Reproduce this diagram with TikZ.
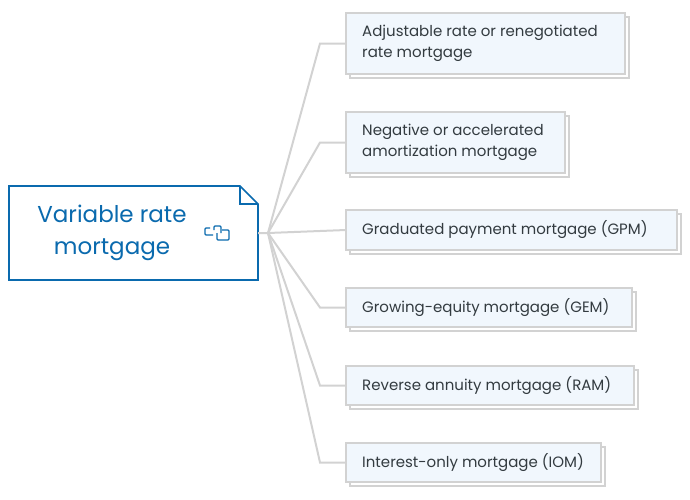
\documentclass[tikz,border=0pt]{standalone}
\usepackage{fontspec}
\setmainfont{Poppins}
\definecolor{rootblue}{HTML}{0A6AAE}
\definecolor{lnk}{HTML}{D2D2D2}
\definecolor{cfill}{HTML}{F1F7FD}
\definecolor{ctext}{HTML}{333B40}
\begin{document}
\begin{tikzpicture}[x=1pt,y=-1pt,
  child/.style={font=\fontsize{15}{21}\selectfont,text=ctext,align=left,anchor=west,inner sep=0pt},
  conn/.style={draw=lnk,line width=2pt}]
\useasboundingbox (0,0) rectangle (690,499);
% root
\draw[rootblue,line width=1.6pt,fill=white] (9,186) -- (240,186) -- (258,204) -- (258,280) -- (9,280) -- cycle;
\draw[rootblue,line width=1.4pt] (240,186) -- (240,204) -- (258,204);
\node[font=\fontsize{23}{32}\selectfont,text=rootblue,align=center] (root) at (112,233) {Variable rate\\mortgage};
\begin{scope}[rootblue,line width=1.3pt,rounded corners=1pt]
\draw (210,228) -- (205,228) -- (205,235) -- (213,235);
\draw (214,230) -- (214,226) -- (221,226) -- (221,233);
\draw (217,233) -- (217,240) -- (229,240) -- (229,230) -- (222,230);
\end{scope}
\coordinate (hub) at (268,233);
\foreach \i/\ya/\yb/\xr/\t in {
 1/13/74/625/{Adjustable rate or renegotiated\\rate mortgage},
 2/112/173/565/{Negative or accelerated\\amortization mortgage},
 3/210/250/677/{Graduated payment mortgage (GPM)},
 4/288/327/632/{Growing-equity mortgage (GEM)},
 5/366/405/634/{Reverse annuity mortgage (RAM)},
 6/443/482/601/{Interest-only mortgage (IOM)}}{
  \draw[lnk,fill=white,line width=1.3pt] (350,\ya+4) rectangle (\xr+4,\yb+4);
  \draw[lnk,fill=cfill,line width=1.3pt] (346,\ya) rectangle (\xr,\yb);
  \coordinate (e\i) at (346,{(\ya+\yb)/2});
  \coordinate (k\i) at (320,{(\ya+\yb)/2});
  \node[child] (c\i) at (362,{(\ya+\yb)/2}) {\t};
}
\foreach \i in {1,2,4,5,6} \draw[conn] (hub) -- (k\i) -- (e\i);
\draw[conn] (258,233) -- (hub) -- (e3);
\end{tikzpicture}
\end{document}
